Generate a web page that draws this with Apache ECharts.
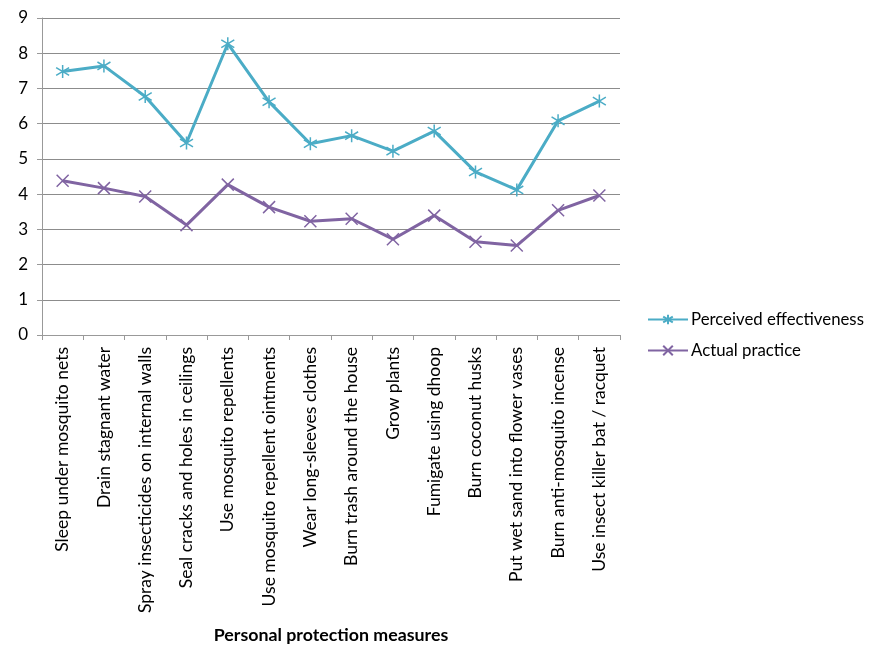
<!DOCTYPE html>
<html><head><meta charset="utf-8">
<script src="https://cdn.jsdelivr.net/npm/echarts@6/dist/echarts.min.js"></script>
<style>html,body{margin:0;padding:0;background:#fff}#c{width:872px;height:646px}</style>
</head><body><div id="c"></div>
<script>
const categories = ["Sleep under mosquito nets","Drain stagnant water","Spray insecticides on internal walls","Seal cracks and holes in ceilings","Use mosquito repellents","Use mosquito repellent ointments","Wear long-sleeves clothes","Burn trash around the house","Grow plants","Fumigate using dhoop","Burn coconut husks","Put wet sand into flower vases","Burn anti-mosquito incense","Use insect killer bat / racquet"];
const perceived = [7.48,7.64,6.77,5.45,8.27,6.62,5.43,5.66,5.22,5.79,4.63,4.12,6.08,6.64];
const actual = [4.38,4.17,3.93,3.12,4.27,3.63,3.23,3.30,2.72,3.39,2.65,2.54,3.54,3.96];
const yTicks = [0,1,2,3,4,5,6,7,8,9];
const FONT = 'Lato';
const asterisk = 'path://M5,0 L5,10 M0,2 L10,8 M10,2 L0,8';
const cross = 'path://M0,0 L10,10 M10,0 L0,10';
const chart = echarts.init(document.getElementById('c'));
chart.setOption({
  animation:false,
  textStyle:{fontFamily:FONT},
  grid:{left:42,right:252,top:18,bottom:311,containLabel:false},
  legend:{orient:'vertical',left:642,top:306,itemGap:14,itemWidth:40,itemHeight:12,padding:[5,0,5,5],
    textStyle:{fontFamily:FONT,fontSize:16.8,color:'#000',padding:[0,0,0,-2]},
    data:['Perceived effectiveness','Actual practice']},
  xAxis:{type:'category',data:categories,boundaryGap:true,
    name:'Personal protection measures',nameLocation:'middle',nameGap:291,
    nameTextStyle:{fontFamily:FONT,fontSize:17.8,fontWeight:'bold',color:'#000'},
    axisLine:{lineStyle:{color:'#999',width:1}},
    axisTick:{show:true,alignWithLabel:false,length:5,lineStyle:{color:'#999'}},
    axisLabel:{rotate:90,interval:0,fontFamily:FONT,fontSize:17.5,color:'#000',margin:12}},
  yAxis:{type:'value',min:0,max:9,interval:1,
    axisLine:{show:true,lineStyle:{color:'#999',width:1}},
    axisTick:{show:true,length:5,lineStyle:{color:'#999'}},
    splitLine:{lineStyle:{color:'#8c8c8c',width:1}},
    axisLabel:{fontFamily:FONT,fontSize:17,color:'#000',margin:14,
      formatter:v=>yTicks.includes(v)?String(v):''}},
  series:[
    {name:'Perceived effectiveness',type:'line',data:perceived,symbol:asterisk,symbolSize:13,
     lineStyle:{color:'#4bacc6',width:3},
     itemStyle:{color:'#4bacc6',borderColor:'#4bacc6',borderWidth:1.5}},
    {name:'Actual practice',type:'line',data:actual,symbol:cross,symbolSize:12,
     lineStyle:{color:'#8064a2',width:3},
     itemStyle:{color:'#8064a2',borderColor:'#8064a2',borderWidth:1.5}}
  ]
});
</script></body></html>
